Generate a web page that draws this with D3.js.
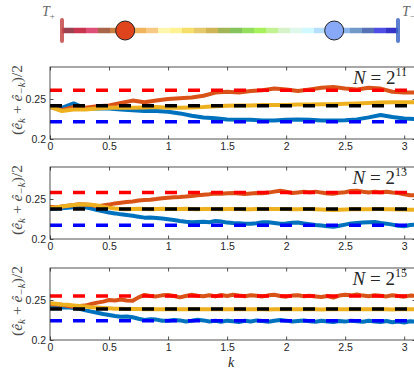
<!DOCTYPE html>
<html><head><meta charset="utf-8">
<script src="https://cdn.jsdelivr.net/npm/d3@7"></script>
<style>
html,body{margin:0;padding:0;background:#fff;}
svg{display:block;}
.tick text{font-family:"Liberation Sans",Arial,sans-serif;font-size:10.5px;fill:#262626;}
</style></head>
<body>
<svg id="c" width="414" height="369"></svg>
<script>
// ---------------- data ----------------
const kCoarse = [0,0.1,0.2,0.3,0.4,0.5,0.6,0.7,0.8,0.9,1.0,1.1,1.2,1.3,1.4,1.5,1.6,1.7,1.8,1.9,2.0,2.1,2.2,2.3,2.4,2.5,2.6,2.7,2.8,2.9,3.0,3.1];
const kFine = [0,0.05,0.1,0.15,0.2,0.25,0.3,0.35,0.4,0.45,0.5,0.55,0.6,0.65,0.7,0.75,0.8,0.85,0.9,0.95,1.0,1.05,1.1,1.15,1.2,1.25,1.3,1.35,1.4,1.45,1.5,1.55,1.6,1.65,1.7,1.75,1.8,1.85,1.9,1.95,2.0,2.05,2.1,2.15,2.2,2.25,2.3,2.35,2.4,2.45,2.5,2.55,2.6,2.65,2.7,2.75,2.8,2.85,2.9,2.95,3.0,3.05,3.1];

// N = 2^11
const p11Orange = [0.240,0.236,0.240,0.239,0.241,0.242,0.245,0.248,0.246,0.248,0.250,0.251,0.252,0.254,0.258,0.259,0.258,0.260,0.261,0.263,0.262,0.260,0.262,0.264,0.265,0.263,0.262,0.264,0.263,0.259,0.258,0.258];
const p11Yellow = [0.240,0.235,0.237,0.237,0.238,0.239,0.2395,0.239,0.2395,0.240,0.239,0.239,0.2395,0.240,0.241,0.2415,0.242,0.242,0.2425,0.2425,0.2425,0.243,0.243,0.2435,0.2435,0.244,0.2445,0.245,0.2455,0.246,0.246,0.246];
const p11Blue = [0.240,0.239,0.2445,0.238,0.238,0.238,0.237,0.236,0.235,0.235,0.234,0.232,0.229,0.227,0.226,0.2245,0.224,0.224,0.223,0.223,0.224,0.2245,0.224,0.223,0.223,0.2235,0.2245,0.227,0.230,0.2275,0.2255,0.225];

// N = 2^13
const p13Orange = [0.2404,0.2395,0.2405,0.2415,0.2425,0.2434,0.2430,0.2425,0.2410,0.2420,0.2430,0.2445,0.2454,0.2462,0.2470,0.2480,0.2488,0.2492,0.2500,0.2510,0.2517,0.2522,0.2525,0.2530,0.2538,0.2548,0.2554,0.2560,0.2570,0.2565,0.2572,0.2575,0.2570,0.2562,0.2568,0.2575,0.2572,0.2580,0.2592,0.2604,0.2590,0.2575,0.2582,0.2590,0.2585,0.2592,0.2580,0.2570,0.2565,0.2578,0.2585,0.2600,0.2602,0.2590,0.2582,0.2592,0.2585,0.2590,0.2580,0.2575,0.2560,0.2546,0.2545];
const p13Yellow = [0.2390,0.2395,0.2405,0.2415,0.2425,0.2430,0.2432,0.2428,0.2420,0.2405,0.2392,0.2382,0.2375,0.2372,0.2375,0.2378,0.2375,0.2372,0.2374,0.2377,0.2376,0.2374,0.2375,0.2377,0.2376,0.2373,0.2374,0.2376,0.2375,0.2372,0.2374,0.2376,0.2375,0.2373,0.2372,0.2374,0.2376,0.2375,0.2374,0.2376,0.2375,0.2373,0.2372,0.2374,0.2375,0.2372,0.2368,0.2365,0.2362,0.2365,0.2368,0.2372,0.2374,0.2373,0.2372,0.2374,0.2375,0.2373,0.2372,0.2370,0.2368,0.2367,0.2367];
const p13Blue = [0.2375,0.2380,0.2385,0.2390,0.2398,0.2400,0.2395,0.2380,0.2363,0.2345,0.2330,0.2320,0.2308,0.2300,0.2290,0.2278,0.2267,0.2270,0.2263,0.2255,0.2246,0.2238,0.2225,0.2215,0.2208,0.2212,0.2217,0.2210,0.2225,0.2218,0.2205,0.2200,0.2198,0.2192,0.2190,0.2198,0.2210,0.2208,0.2200,0.2190,0.2195,0.2202,0.2205,0.2195,0.2185,0.2175,0.2168,0.2160,0.2154,0.2165,0.2180,0.2195,0.2200,0.2205,0.2210,0.2212,0.2200,0.2192,0.2180,0.2165,0.2160,0.2175,0.2178];

// N = 2^15
const p15Orange = [0.2446,0.2445,0.2440,0.2425,0.2417,0.2425,0.2430,0.2450,0.2467,0.2480,0.2500,0.2495,0.2505,0.2495,0.2490,0.2533,0.2563,0.2550,0.2545,0.2558,0.2562,0.2550,0.2533,0.2550,0.2565,0.2552,0.2548,0.2560,0.2545,0.2562,0.2550,0.2565,0.2555,0.2548,0.2560,0.2552,0.2545,0.2558,0.2565,0.2550,0.2542,0.2555,0.2560,0.2548,0.2552,0.2545,0.2538,0.2550,0.2530,0.2555,0.2565,0.2558,0.2570,0.2555,0.2548,0.2560,0.2552,0.2545,0.2560,0.2550,0.2542,0.2555,0.2550];
const p15Yellow = [0.2458,0.2452,0.2445,0.2440,0.2432,0.2425,0.2418,0.2410,0.2405,0.2400,0.2396,0.2392,0.2390,0.2388,0.2387,0.2386,0.2385,0.2384,0.2385,0.2384,0.2383,0.2384,0.2385,0.2384,0.2383,0.2384,0.2385,0.2384,0.2383,0.2384,0.2385,0.2384,0.2383,0.2384,0.2385,0.2384,0.2383,0.2382,0.2384,0.2385,0.2384,0.2383,0.2384,0.2385,0.2384,0.2383,0.2382,0.2383,0.2384,0.2385,0.2384,0.2383,0.2384,0.2385,0.2384,0.2383,0.2384,0.2383,0.2382,0.2383,0.2384,0.2383,0.2383];
const p15Blue = [0.2410,0.2412,0.2405,0.2408,0.2400,0.2390,0.2370,0.2355,0.2340,0.2325,0.2313,0.2300,0.2290,0.2295,0.2285,0.2265,0.2250,0.2260,0.2255,0.2240,0.2240,0.2250,0.2245,0.2232,0.2240,0.2252,0.2245,0.2232,0.2240,0.2228,0.2242,0.2235,0.2225,0.2240,0.2232,0.2245,0.2238,0.2228,0.2240,0.2250,0.2242,0.2232,0.2238,0.2245,0.2235,0.2228,0.2240,0.2232,0.2225,0.2238,0.2230,0.2242,0.2235,0.2228,0.2240,0.2232,0.2225,0.2238,0.2222,0.2230,0.2218,0.2235,0.2230];

// reference (dashed) levels per panel: [red, black, blue]
const refLevels11 = [0.261, 0.2415, 0.2215];
const refLevels13 = [0.258, 0.2375, 0.2172];
const refLevels15 = [0.255, 0.2388, 0.2241];

const panelExponents = ["11", "13", "15"];
const xTicks = [0, 0.5, 1, 1.5, 2, 2.5, 3];
const xTickLabels = ["0", "0.5", "1", "1.5", "2", "2.5", "3"];
const yTicks = [0.2, 0.25];
const yTickLabels = ["0.2", "0.25"];

// temperature bar colours, from T+ to T-
const barColors = ["#8b2030","#c01030","#d83060","#9a4a2a","#c06a20","#d88a30","#eda840","#f5c070","#fff5a0","#fff080","#f5d850","#e0c050","#c8a838","#90a838","#70b840","#80d840","#98f040","#b8f080","#d0f0c0","#d8f8e8","#c8f8ff","#a8d8ff","#98c0ff","#78a8e8","#5888c0","#3858a8","#3030e0","#1010c0"];
const barMarkers = [0.188, 0.81]; // fractional positions of the two circles along the bar

// ---------------- drawing ----------------
const svg = d3.select("#c");
const colOrange = "#D95319", colYellow = "#EDB120", colBlue = "#0072BD";
const axisCol = "#262626";

const panels = [
  {k: kCoarse, o: p11Orange, y: p11Yellow, b: p11Blue, ref: refLevels11, top: 67},
  {k: kFine, o: p13Orange, y: p13Yellow, b: p13Blue, ref: refLevels13, top: 167},
  {k: kFine, o: p15Orange, y: p15Yellow, b: p15Blue, ref: refLevels15, top: 268}
];
const left = 50, right = 416, ph = 72;
const x = d3.scaleLinear().domain([0, 3.1]).range([left, right]);

const defs = svg.append("defs");

panels.forEach((p, i) => {
  const y = d3.scaleLinear().domain([0.2, 0.29]).range([p.top + ph, p.top]);
  const g = svg.append("g");
  defs.append("clipPath").attr("id", "clip" + i)
    .append("rect").attr("x", left).attr("y", p.top).attr("width", right - left).attr("height", ph);
  const plot = g.append("g").attr("clip-path", `url(#clip${i})`);
  const line = d3.line().x((d) => x(d[0])).y((d) => y(d[1]));
  [[p.b, colBlue], [p.o, colOrange], [p.y, colYellow]].forEach(([vals, c]) => {
    plot.append("path")
      .datum(p.k.map((kk, j) => [kk, vals[j]]))
      .attr("d", line).attr("fill", "none").attr("stroke", c)
      .attr("stroke-width", 4).attr("stroke-linejoin", "round").attr("stroke-linecap", "round");
  });
  const refCols = ["#FF0000", "#000000", "#0000FF"];
  p.ref.forEach((v, j) => {
    plot.append("line").attr("x1", x(0)).attr("x2", x(3.1)).attr("y1", y(v)).attr("y2", y(v))
      .attr("stroke", refCols[j]).attr("stroke-width", 3.5).attr("stroke-dasharray", "12,11");
  });

  // axes (ticks inward, box)
  const bottom = g.append("g").attr("transform", `translate(0,${p.top + ph})`)
    .call(d3.axisBottom(x).tickValues(xTicks).tickFormat((d, j) => xTickLabels[j]).tickSize(-3.5).tickPadding(4));
  const leftAx = g.append("g").attr("transform", `translate(${left},0)`)
    .call(d3.axisLeft(y).tickValues(yTicks).tickFormat((d, j) => yTickLabels[j]).tickSize(-3.5).tickPadding(4));
  const topAx = g.append("g").attr("transform", `translate(0,${p.top})`)
    .call(d3.axisTop(x).tickValues(xTicks).tickFormat("").tickSize(-3.5));
  const rightAx = g.append("g").attr("transform", `translate(${right},0)`)
    .call(d3.axisRight(y).tickValues(yTicks).tickFormat("").tickSize(-3.5));
  [bottom, leftAx, topAx, rightAx].forEach(a => {
    a.select(".domain").remove();
    a.selectAll(".tick line").attr("stroke", axisCol).attr("stroke-width", 0.8);
  });
  g.append("rect").attr("x", left).attr("y", p.top).attr("width", right - left).attr("height", ph)
    .attr("fill", "none").attr("stroke", axisCol).attr("stroke-width", 0.8);

  // N = 2^n
  const nt = g.append("text").attr("x", 407).attr("y", p.top + 17).attr("text-anchor", "end")
    .attr("font-family", "'Liberation Serif','DejaVu Serif',serif").attr("font-size", 19).attr("fill", axisCol);
  nt.append("tspan").attr("font-style", "italic").text("N");
  nt.append("tspan").text(" = 2");
  nt.append("tspan").attr("font-size", 12).attr("dy", -8).text(panelExponents[i]);

  // y label
  const yl = g.append("text")
    .attr("transform", `translate(22,${p.top + ph / 2 - 3}) rotate(-90)`)
    .attr("text-anchor", "middle")
    .attr("font-family", "'Liberation Serif','DejaVu Serif',serif").attr("font-size", 15.5).attr("fill", "#4a4a4a");
  yl.append("tspan").text("(");
  yl.append("tspan").attr("font-style", "italic").text("ê");
  yl.append("tspan").attr("font-style", "italic").attr("font-size", 11).attr("dy", 3).text("k");
  yl.append("tspan").attr("dy", -3).text(" + ");
  yl.append("tspan").attr("font-style", "italic").text("ê");
  yl.append("tspan").attr("font-style", "italic").attr("font-size", 11).attr("dy", 3).text("−k");
  yl.append("tspan").attr("dy", -3).text(")/2");
});

// x label
svg.append("text").attr("x", 231).attr("y", 367).attr("text-anchor", "middle")
  .attr("font-family", "'Liberation Serif','DejaVu Serif',serif").attr("font-style", "italic")
  .attr("font-size", 14).attr("fill", axisCol).text("k");

// ---- temperature bar ----
const bx = d3.scaleLinear().domain([0, barColors.length]).range([62, 398]);
const by = 30.5;
barColors.forEach((c, i) => {
  svg.append("line").attr("x1", bx(i)).attr("x2", bx(i + 1)).attr("y1", by).attr("y2", by)
    .attr("stroke", c).attr("stroke-width", 5.5).attr("stroke-opacity", 0.85);
});
svg.append("line").attr("x1", 62).attr("x2", 62).attr("y1", 20).attr("y2", 41)
  .attr("stroke", "#c44848").attr("stroke-width", 4).attr("stroke-opacity", 0.85).attr("stroke-linecap", "round");
svg.append("line").attr("x1", 398).attr("x2", 398).attr("y1", 20).attr("y2", 41)
  .attr("stroke", "#3f68c8").attr("stroke-width", 4).attr("stroke-opacity", 0.85).attr("stroke-linecap", "round");
const bpos = d3.scaleLinear().domain([0, 1]).range([62, 398]);
svg.append("circle").attr("cx", bpos(barMarkers[0])).attr("cy", by).attr("r", 9.5)
  .attr("fill", "#e0441c").attr("stroke", "#222").attr("stroke-width", 1);
svg.append("circle").attr("cx", bpos(barMarkers[1])).attr("cy", by).attr("r", 9.5)
  .attr("fill", "#88a8f8").attr("stroke", "#222").attr("stroke-width", 1);

const tp = svg.append("text").attr("x", 42).attr("y", 16)
  .attr("font-family", "'Liberation Serif','DejaVu Serif',serif").attr("font-size", 14).attr("fill", "#666");
tp.append("tspan").attr("font-style", "italic").text("T");
tp.append("tspan").attr("font-size", 9).attr("dy", 3).text("+");
const tm = svg.append("text").attr("x", 402).attr("y", 16)
  .attr("font-family", "'Liberation Serif','DejaVu Serif',serif").attr("font-size", 14).attr("fill", "#666");
tm.append("tspan").attr("font-style", "italic").text("T");
tm.append("tspan").attr("font-size", 9).attr("dy", 3).text("−");
</script>
</body></html>
